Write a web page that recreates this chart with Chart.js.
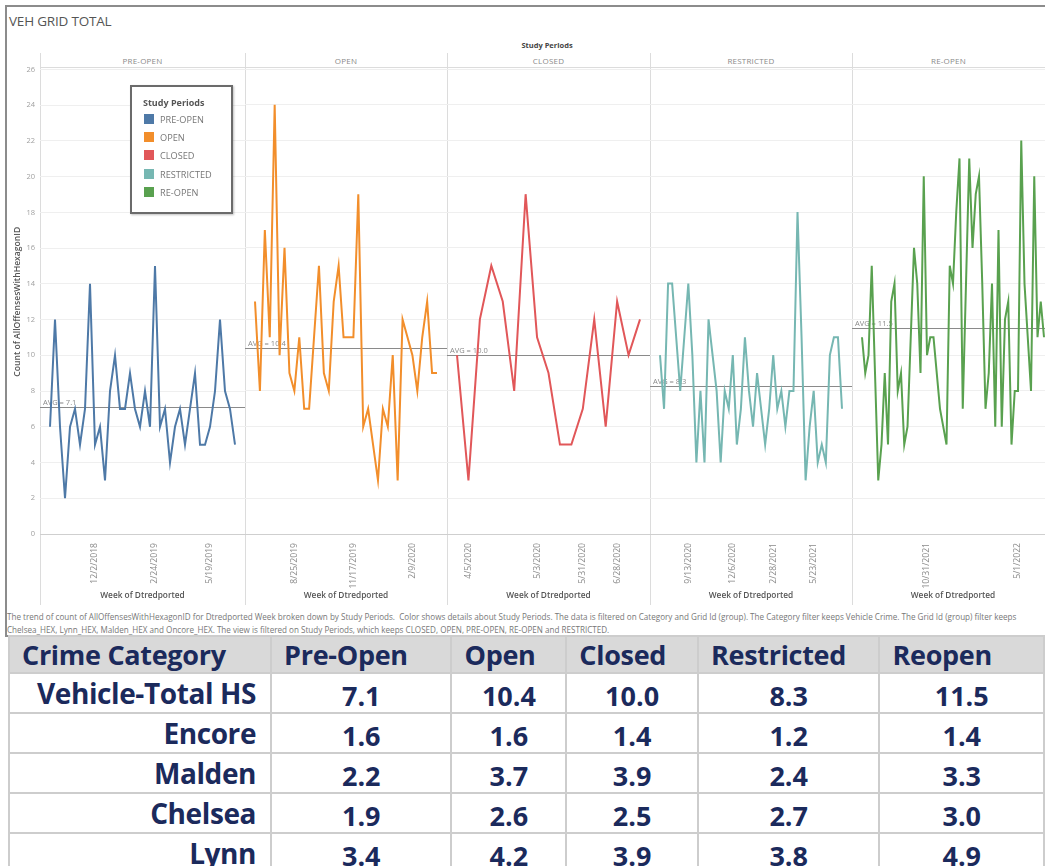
<!DOCTYPE html>
<html>
<head>
<meta charset="utf-8">
<script src="https://cdn.jsdelivr.net/npm/chart.js@4.4.0/dist/chart.umd.min.js"></script>
<style>
  body { margin:0; width:1045px; height:866px; overflow:hidden; background:#fff; position:relative; font-family:'Open Sans', sans-serif; }
  #sheet { position:absolute; left:5px; top:5px; width:1060px; height:632px; border:2px solid #8c8c8c; box-sizing:border-box; }
  .abs { position:absolute; }
  #title { left:9px; top:12px; font-size:13.5px; color:#555; letter-spacing:-0.2px; }
  #studyHead { left:40px; width:1014px; top:40px; text-align:center; font-size:7.5px; font-weight:700; color:#444; }
  .phead { top:55px; font-size:8px; color:#8a8a8a; text-align:center; letter-spacing:0.2px; }
  .vsep { top:53px; height:552px; width:1px; background:#dcdcdc; }
  #hline { left:40px; top:67px; width:1010px; height:1px; background:#dcdcdc; }
  .chartbox { top:60px; height:546px; }
  #legend { left:130px; top:85px; width:103px; height:129px; border:2px solid #6b6b6b; background:#fff; box-sizing:border-box; box-shadow:1px 1px 2px rgba(0,0,0,0.25); }
  #legend .lt { position:absolute; left:11px; top:9px; font-size:9px; font-weight:700; color:#555; }
  #legend .li { position:absolute; left:12px; font-size:9.2px; color:#777; }
  #legend .sw { display:inline-block; width:10px; height:10px; margin-right:6px; vertical-align:-1px; }
  .foot { left:7px; font-size:8.1px; color:#777; white-space:nowrap; }
  table { position:absolute; left:8px; top:635px; border-collapse:collapse; table-layout:fixed; font-family:'Open Sans', sans-serif; font-weight:700; color:#1b2a5c; }
  td, th { border:2px solid #cdcdcd; padding:0; overflow:hidden; white-space:nowrap; line-height:1; box-sizing:border-box; }
  tr.h { height:37px; }
  tr.r { height:40px; }
  th { background:#d9d9d9; font-size:27px; text-align:left; padding-left:12px; font-weight:700; letter-spacing:-0.3px; }
  td { font-size:27px; text-align:center; padding-top:5px; }
  td.lab { text-align:right; padding-right:14px; font-size:28px; padding-top:0; letter-spacing:-0.4px; }
</style>
</head>
<body>
<div id="sheet"></div>
<div id="title" class="abs">VEH GRID TOTAL</div>
<div id="studyHead" class="abs">Study Periods</div>
<div id="hline" class="abs"></div>
<div id="charts"></div>
<div id="legend" class="abs"><div class="lt">Study Periods</div></div>
<div class="abs foot" style="top:611px">The trend of count of AllOffensesWithHexagonID for Dtredported Week broken down by Study Periods.&nbsp; Color shows details about Study Periods. The data is filtered on Category and Grid Id (group). The Category filter keeps Vehicle Crime. The Grid Id (group) filter keeps</div>
<div class="abs foot" style="top:624px">Chelsea_HEX, Lynn_HEX, Malden_HEX and Oncore_HEX. The view is filtered on Study Periods, which keeps CLOSED, OPEN, PRE-OPEN, RE-OPEN and RESTRICTED.</div>
<table id="tbl"></table>
<script>
// study periods and colours
const periods = ['PRE-OPEN', 'OPEN', 'CLOSED', 'RESTRICTED', 'RE-OPEN'];
const periodColors = ['#4e79a7', '#f28e2b', '#e15759', '#76b7b2', '#59a14f'];

// weekly counts per period
const preOpenCounts = [6,12,6,2,6,7,5,7,14,5,6,3,8,10,7,7,9,7,6,8,6,15,6,7,4,6,7,5,7,9,5,5,6,8,12,8,7,5];
const openCounts = [13,8,17,11,24,10,16,9,8,11,7,7,11,15,9,8,13,15,11,11,11,19,6,7,5,3,7,6,10,3,12,11,10,8,11,13,9,9];
const closedCounts = [10,3,12,15,13,8,19,11,9,5,5,7,12,6,13,10,12];
const restrictedCounts = [10,7,14,14,11,8,11,14,10,4,8,4,12,10,8,4,8,7,10,5,7,11,8,6,9,7,5,7,10,7,8,6,8,8,18,11,3,6,8,4,5,4,10,11,11,7];
const reopenCounts = [11,9,10,15,9,3,5,9,5,13,14,8,9,5,6,11,16,14,9,20,10,11,11,9,7,6,5,15,14,18,21,7,14,21,16,19,20,14,7,9,14,6,17,6,12,13,5,8,8,22,14,11,8,20,11,13,11];

// date tick labels and the week index they sit on
const preOpenTicks = ['12/2/2018', '2/24/2019', '5/19/2019'];
const preOpenTickIdx = [9, 21, 32];
const openTicks = ['8/25/2019', '11/17/2019', '2/9/2020'];
const openTickIdx = [8, 20, 32];
const closedTicks = ['4/5/2020', '5/3/2020', '5/31/2020', '6/28/2020'];
const closedTickIdx = [1, 7, 11, 14];
const restrictedTicks = ['9/13/2020', '12/6/2020', '2/28/2021', '5/23/2021'];
const restrictedTickIdx = [7, 18, 28, 38];
const reopenTicks = ['10/31/2021', '5/1/2022'];
const reopenTickIdx = [20, 48];

// table
const tableHeaders = ['Crime Category', 'Pre-Open', 'Open', 'Closed', 'Restricted', 'Reopen'];
const tableRows = ['Vehicle-Total HS', 'Encore', 'Malden', 'Chelsea', 'Lynn'];
const vehicleTotalAvg = [7.1, 10.4, 10.0, 8.3, 11.5];
const encoreAvg = [1.6, 1.6, 1.4, 1.2, 1.4];
const maldenAvg = [2.2, 3.7, 3.9, 2.4, 3.3];
const chelseaAvg = [1.9, 2.6, 2.5, 2.7, 3.0];
const lynnAvg = [3.4, 4.2, 3.9, 3.8, 4.9];

const seriesList = [preOpenCounts, openCounts, closedCounts, restrictedCounts, reopenCounts];
const tickLabelList = [preOpenTicks, openTicks, closedTicks, restrictedTicks, reopenTicks];
const tickIdxList = [preOpenTickIdx, openTickIdx, closedTickIdx, restrictedTickIdx, reopenTickIdx];
const panelLeft = [40, 245, 447, 650, 852];
const panelRight = [245, 447, 650, 852, 1054];

Chart.defaults.font.family = "'Open Sans', sans-serif";

const avgLine = {
  id: 'avgLine',
  beforeDatasetsDraw(chart, args, opts) {
    const {ctx, chartArea: a, scales: {y}} = chart;
    const py = Math.round(y.getPixelForValue(opts.value)) + 0.5;
    ctx.save();
    ctx.strokeStyle = '#8a8a8a';
    ctx.lineWidth = 1;
    ctx.beginPath();
    ctx.moveTo(a.left, py);
    ctx.lineTo(a.right, py);
    ctx.stroke();
    ctx.fillStyle = '#8a8a8a';
    ctx.font = "7.5px 'Open Sans'";
    ctx.fillText('AVG = ' + opts.value.toFixed(1), a.left + 3, py - 3);
    ctx.restore();
  }
};

const chartsDiv = document.getElementById('charts');
periods.forEach((name, i) => {
  const head = document.createElement('div');
  head.className = 'abs phead';
  head.style.left = panelLeft[i] + 'px';
  head.style.width = (Math.min(panelRight[i], 1045) - panelLeft[i]) + 'px';
  head.textContent = name;
  chartsDiv.appendChild(head);

  const sep = document.createElement('div');
  sep.className = 'abs vsep';
  sep.style.left = panelLeft[i] + 'px';
  chartsDiv.appendChild(sep);

  const first = i === 0;
  const left = first ? 12 : panelLeft[i];
  const box = document.createElement('div');
  box.className = 'abs chartbox';
  box.style.left = left + 'px';
  box.style.width = (panelRight[i] - left) + 'px';
  const canvas = document.createElement('canvas');
  canvas.width = panelRight[i] - left;
  canvas.height = 546;
  box.appendChild(canvas);
  chartsDiv.appendChild(box);

  const vals = seriesList[i];
  const n = vals.length;
  const plotW = panelRight[i] - panelLeft[i];
  const pad = 10 * (n - 1) / (plotW - 20);

  new Chart(canvas, {
    type: 'line',
    data: {
      datasets: [{
        label: name,
        data: vals.map((v, k) => ({x: k, y: v})),
        borderColor: periodColors[i],
        borderWidth: 2,
        pointRadius: 0,
        tension: 0,
        fill: false
      }]
    },
    options: {
      responsive: false,
      animation: false,
      layout: {padding: {top: 9, left: 0, right: 0, bottom: 0}},
      plugins: {legend: {display: false}, tooltip: {enabled: false}, avgLine: {value: vehicleTotalAvg[i]}},
      scales: {
        x: {
          type: 'linear',
          min: -pad,
          max: n - 1 + pad,
          grid: {display: false},
          border: {display: false},
          afterBuildTicks: s => { s.ticks = tickIdxList[i].map(v => ({value: v})); },
          afterFit: s => { s.height = 72; },
          ticks: {
            autoSkip: false, minRotation: 90, maxRotation: 90, padding: 1,
            color: '#8a8a8a', font: {size: 8.6},
            callback: (v, k) => tickLabelList[i][k]
          },
          title: {display: true, text: 'Week of Dtredported', color: '#555', font: {size: 8.3, weight: '600'}, padding: {top: 4, bottom: 5}}
        },
        y: {
          min: 0,
          max: 26,
          border: {display: false},
          grid: {drawTicks: false, color: c => c.tick.value === 0 ? '#cfcfcf' : '#efefef'},
          ticks: {display: first, stepSize: 2, padding: 5, color: '#a0a0a0', font: {size: 7.5}},
          title: {display: first, text: 'Count of AllOffensesWithHexagonID', color: '#555', font: {size: 8.6, weight: '600'}, padding: 0},
          afterFit: s => { s.width = first ? 28 : 0; }
        }
      }
    },
    plugins: [avgLine]
  });
});

// legend
const legend = document.getElementById('legend');
periods.forEach((name, i) => {
  const item = document.createElement('div');
  item.className = 'li';
  item.style.top = (26 + i * 18.2) + 'px';
  item.innerHTML = '<span class="sw" style="background:' + periodColors[i] + '"></span>' + name;
  legend.appendChild(item);
});

// table
const colWidths = [265, 185, 118, 135, 185, 170];
const rowValues = [vehicleTotalAvg, encoreAvg, maldenAvg, chelseaAvg, lynnAvg];
const tbl = document.getElementById('tbl');
let html = '<colgroup>' + colWidths.map(w => '<col style="width:' + w + 'px">').join('') + '</colgroup>';
html += '<tr class="h">' + tableHeaders.map(h => '<th>' + h + '</th>').join('') + '</tr>';
tableRows.forEach((r, k) => {
  html += '<tr class="r"><td class="lab">' + r + '</td>' + rowValues[k].map(v => '<td>' + v.toFixed(1) + '</td>').join('') + '</tr>';
});
tbl.innerHTML = html;
</script>
</body>
</html>
